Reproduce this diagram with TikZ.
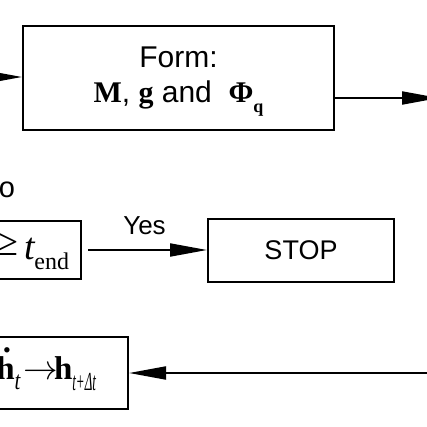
\documentclass[tikz,border=0pt]{standalone}
\usepackage{graphicx}
\usepackage{fontspec}
\setmainfont{Liberation Sans}
\newfontfamily\tms{Liberation Serif}
\usetikzlibrary{arrows.meta}
\tikzset{>={Triangle[length=18.5pt,width=6.5pt]}}
\tikzset{block/.style={draw, line width=1pt, inner sep=0pt, align=center},
         eqn/.style={inner sep=0pt, anchor=base east}}
\newcommand{\subtx}[3]{\raisebox{-#1}{\mdseries\itshape\fontsize{13}{14}\selectfont\scalebox{#2}[1]{#3}}}

\begin{document}
\begin{tikzpicture}[x=0.5pt, y=-0.5pt, line width=1pt]
        \useasboundingbox (0,0) rectangle (427,427);
        \clip (0,0) rectangle (427,427);
        \node[block, minimum width=155.5pt, minimum height=52pt] (form) at (178.5,78) {};
        \node[align=center, inner sep=0pt, font=\fontsize{15}{17.5}\selectfont] (formtext) at (178.5,82)
            {Form:\\{\tms\bfseries M}, {\tms\bfseries g} and~ {\tms\bfseries Φ}\raisebox{-5pt}{\tms\bfseries\fontsize{9}{10}\selectfont q}};
        \coordinate (formin) at (-30,77);
        \coordinate (formout) at (439,98);
        \draw[->] (formin) -- (form.west |- formin);
        \draw[->] (form.east |- formout) -- (formout);

        \node[inner sep=0pt, anchor=east, font=\fontsize{14.5}{17}\selectfont] (no) at (16,189.5) {o};

        \node[block, minimum width=49pt, minimum height=29pt] (check) at (32,250) {};
        \node[eqn] (checktext) at (70,259)
            {\tms\raisebox{2pt}{\fontsize{20}{22}\selectfont ≥}\hspace{3pt}{\fontsize{19}{22}\selectfont\itshape t}\hspace{-0.5pt}\raisebox{-5pt}{\fontsize{12}{14}\selectfont end}};
        \node[block, minimum width=93pt, minimum height=31.5pt, font=\fontsize{13.5}{16}\selectfont] (stop) at (301,250) {STOP};
        \draw[->, shorten <=3pt] (check) -- node[above=4pt, font=\fontsize{13}{15}\selectfont] (yes) {Yes} (stop);

        \node[block, minimum width=79pt, minimum height=36pt] (update) at (49,373) {};
        \node[eqn] (updatetext) at (97,379)
            {\tms\fontsize{16.5}{19}\selectfont\bfseries\rlap{\hspace{0.2em}\raisebox{0.8em}{.}}h\subtx{5pt}{0.8}{t}\hspace{1.5pt}$\rightarrow$\hspace{-2pt}h\subtx{5.5pt}{0.5}{t+Δt}};
        \coordinate (updin) at (440,373);
        \draw[->] (updin) -- (update);
\end{tikzpicture}
\end{document}
